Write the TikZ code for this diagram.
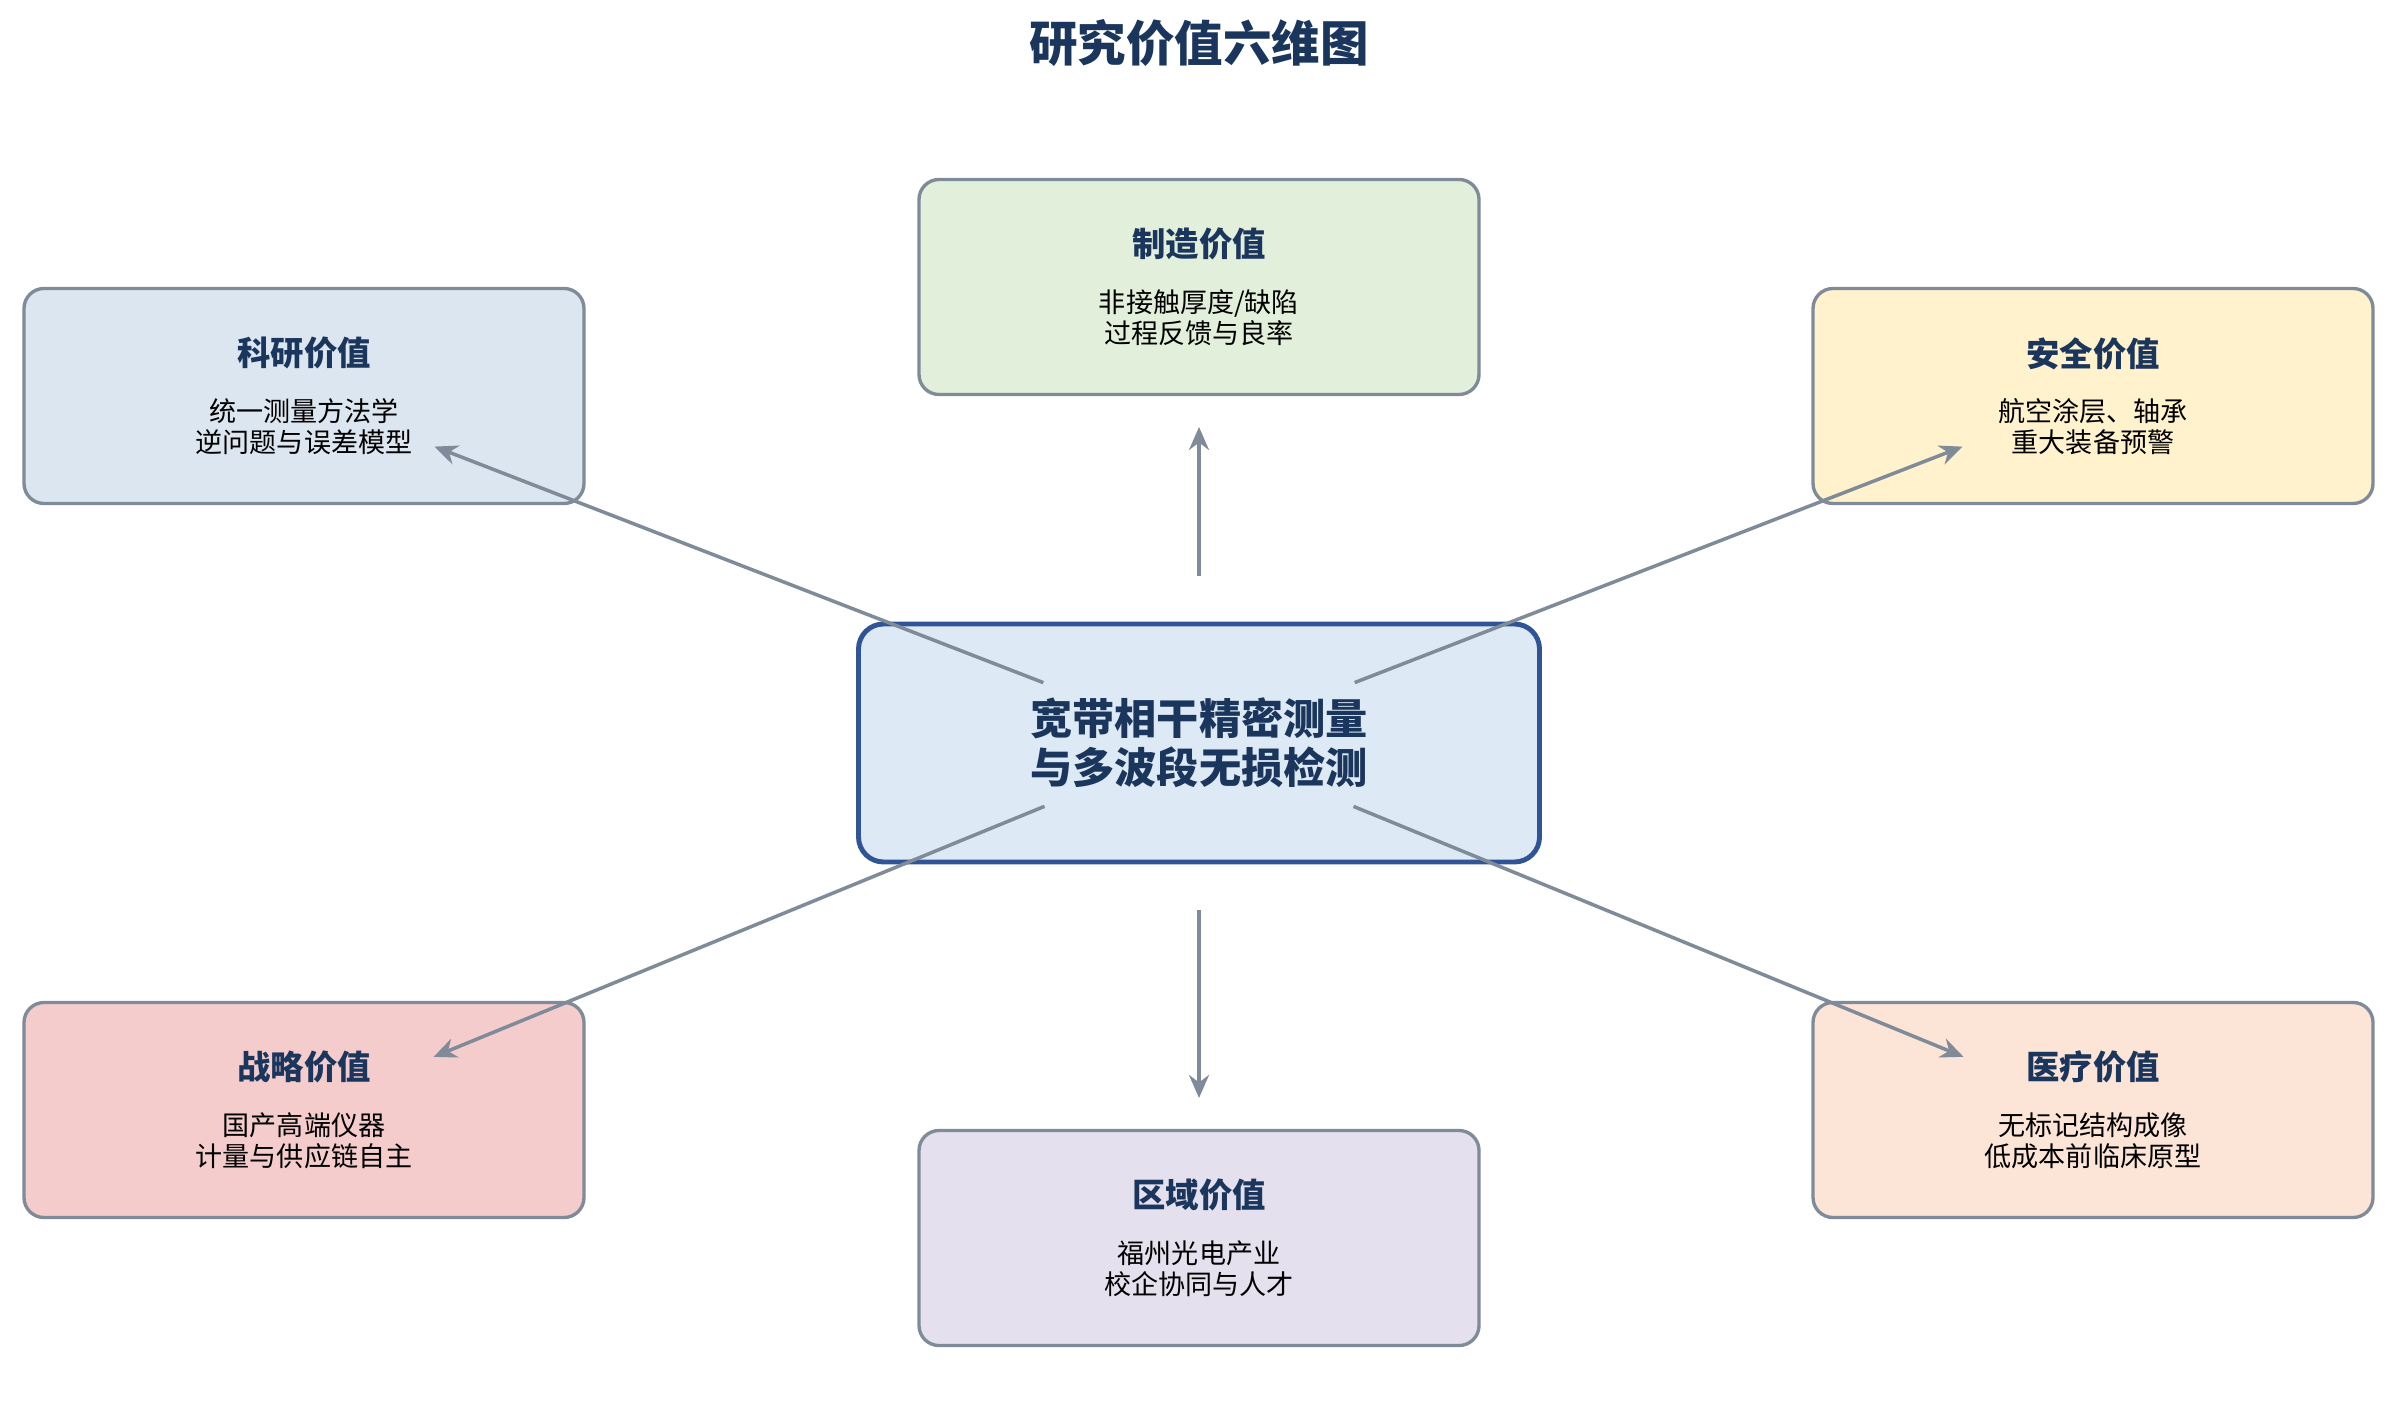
\documentclass[tikz,border=0pt]{standalone}
\usepackage{fontspec}
\setmainfont{Noto Sans CJK SC}
\usepackage{xcolor}
\usetikzlibrary{arrows.meta}

\definecolor{navy}{HTML}{1B365D}
\definecolor{edgegray}{HTML}{7F8B99}
\definecolor{centreblue}{HTML}{2F5597}
\definecolor{centrefill}{HTML}{DDEAF6}
\definecolor{researchfill}{HTML}{DCE6F0}
\definecolor{makefill}{HTML}{E2EFDA}
\definecolor{safetyfill}{HTML}{FFF2CC}
\definecolor{strategyfill}{HTML}{F4CCCC}
\definecolor{medicalfill}{HTML}{FCE4D6}
\definecolor{regionfill}{HTML}{E4E0EE}

\newcommand{\valtitle}[1]{{\fontsize{9.5}{11}\selectfont\bfseries\color{navy}#1}}

\begin{document}
\begin{tikzpicture}[y=-1cm,
  valuebox/.style={draw=edgegray, line width=0.95pt, rectangle, rounded corners=0.2cm, minimum width=5.6cm, minimum height=2.15cm, align=center, font=\fontsize{7.7}{8.8}\selectfont},
  link/.style={draw=edgegray, line width=1pt, -{Stealth[length=2.3mm,width=2mm]}, shorten <=1.67cm, shorten >=1.4cm}]

\useasboundingbox (0,0) rectangle (23.97,14.07);

\node [font=\fontsize{13.8}{16}\selectfont\bfseries, text=navy] (title) at (11.99,0.43) {研究价值六维图};

\node [draw=centreblue, fill=centrefill, line width=1.4pt, rectangle, rounded corners=0.25cm, minimum width=6.81cm, minimum height=2.38cm, align=center, font=\fontsize{12}{13.9}\selectfont\bfseries, text=navy] (centre) at (11.99,7.43) {宽带相干精密测量\\与多波段无损检测};

\node [valuebox, fill=makefill] (make) at (11.99,2.87) {\valtitle{制造价值}\\[7pt]非接触厚度/缺陷\\过程反馈与良率};

\node [valuebox, fill=researchfill] (research) at (3.04,3.96) {\valtitle{科研价值}\\[7pt]统一测量方法学\\逆问题与误差模型};

\node [valuebox, fill=safetyfill] (safety) at (20.93,3.96) {\valtitle{安全价值}\\[7pt]航空涂层、轴承\\重大装备预警};

\node [valuebox, fill=strategyfill] (strategy) at (3.04,11.10) {\valtitle{战略价值}\\[7pt]国产高端仪器\\计量与供应链自主};

\node [valuebox, fill=medicalfill] (medical) at (20.93,11.10) {\valtitle{医疗价值}\\[7pt]无标记结构成像\\低成本前临床原型};

\node [valuebox, fill=regionfill] (region) at (11.99,12.38) {\valtitle{区域价值}\\[7pt]福州光电产业\\校企协同与人才};

\draw [link] (centre.center) -- (make.center);
\draw [link] (centre.center) -- (research.center);
\draw [link] (centre.center) -- (safety.center);
\draw [link] (centre.center) -- (strategy.center);
\draw [link] (centre.center) -- (medical.center);
\draw [link] (centre.center) -- (region.center);

\end{tikzpicture}
\end{document}
